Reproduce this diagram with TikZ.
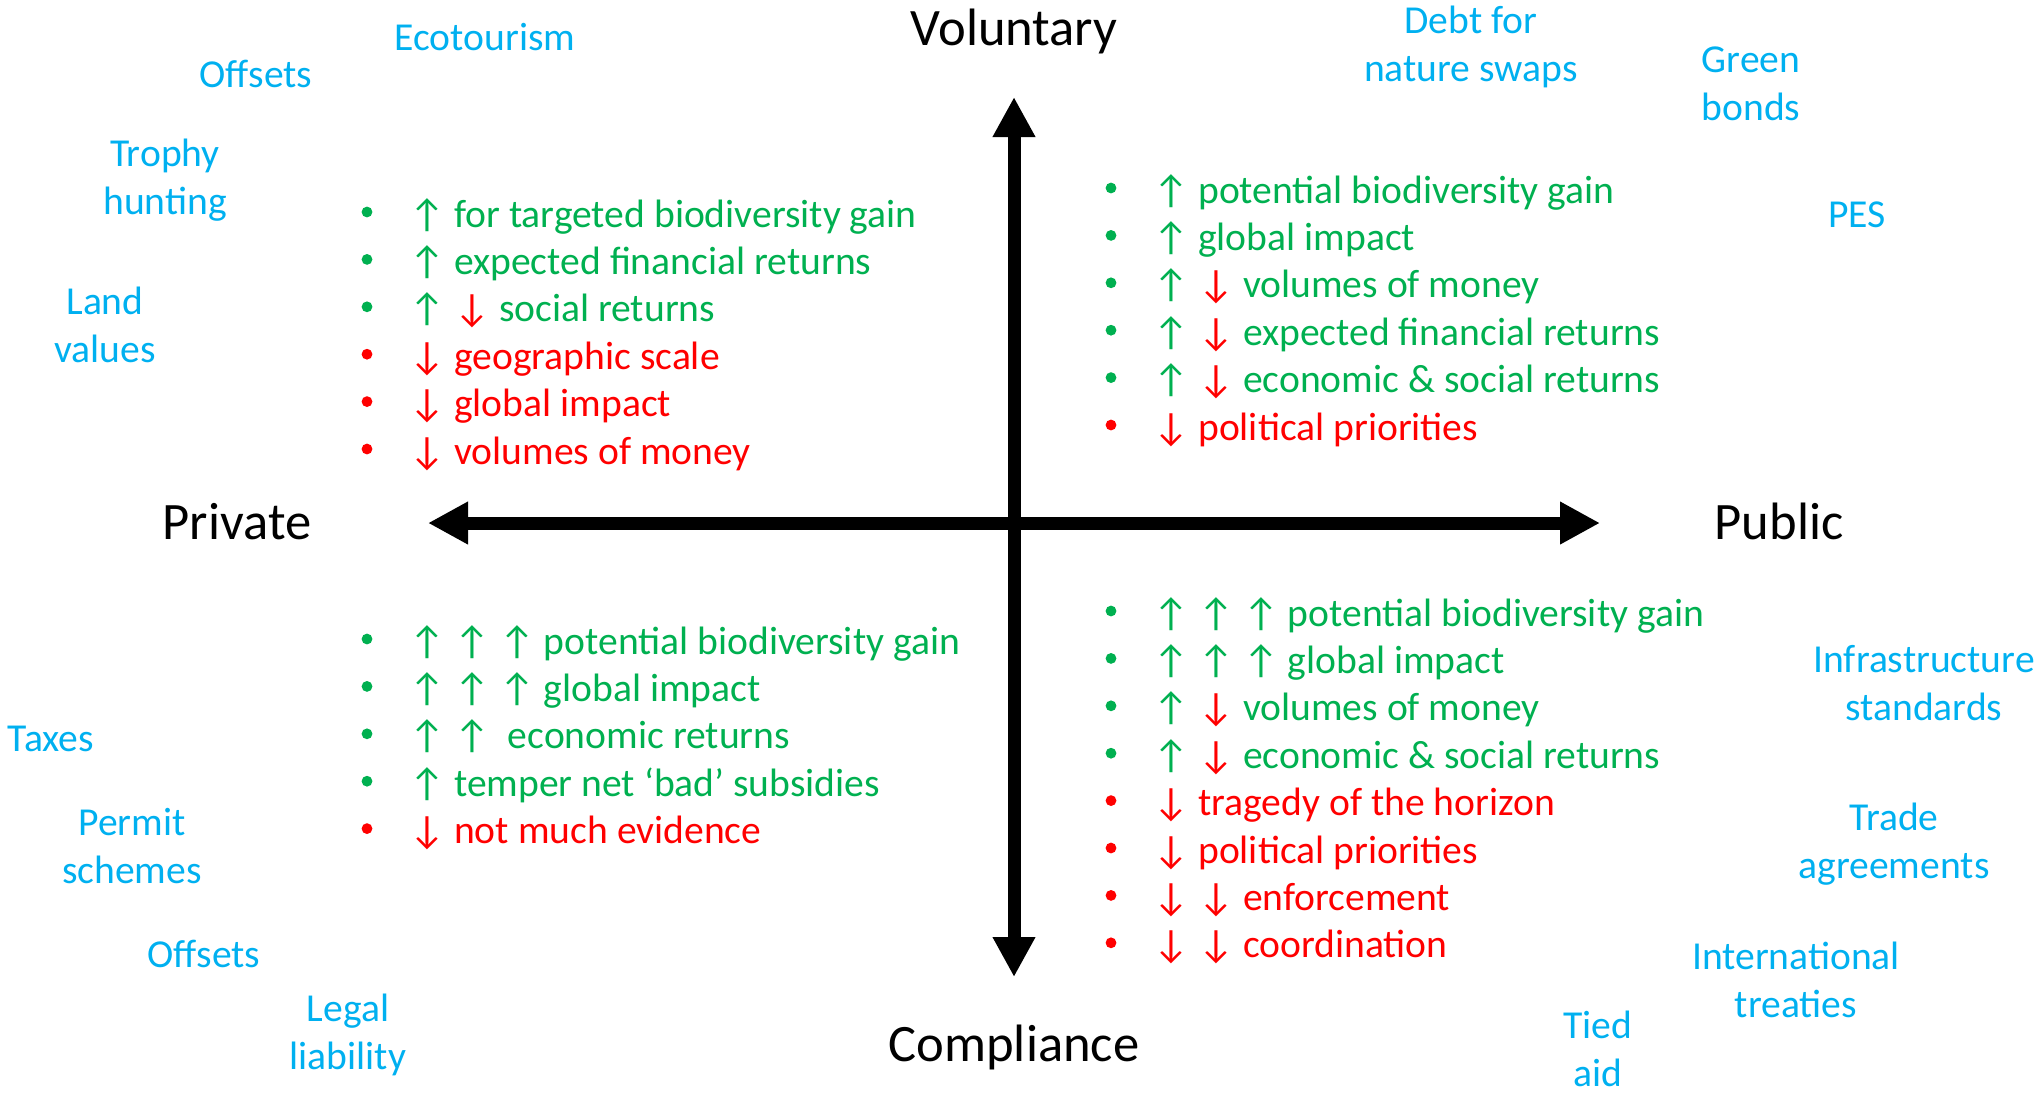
\documentclass[tikz,border=0pt]{standalone}
\usepackage{fontspec}
\setmainfont{Carlito}
\usetikzlibrary{arrows.meta}

\definecolor{plusgreen}{HTML}{00B050}
\definecolor{minusred}{HTML}{FF0000}
\definecolor{toolblue}{HTML}{00B0F0}

\newcommand{\up}{\textcolor{plusgreen}{↑}}
\newcommand{\dn}{\textcolor{minusred}{↓}}

\begin{document}
\begin{tikzpicture}[x=0.5pt,y=-0.5pt,
  axis/.style={line width=6.5pt,
    {Triangle[length=20pt,width=20pt]}-{Triangle[length=20pt,width=20pt]}},
  pole/.style={font=\fontsize{26.3}{31}\selectfont, anchor=base, inner sep=0pt},
  tool/.style={text=toolblue, font=\fontsize{19.8}{23.7}\selectfont,
    align=center, anchor=base, inner sep=0pt},
  item/.style={font=\fontsize{19.8}{23.7}\selectfont, anchor=base west, inner sep=0pt},
  dot/.style={radius=2.7pt},
]
\useasboundingbox (0,0) rectangle (2038,1094);

% axes
\coordinate (vtop) at (1014,97);
\coordinate (vbot) at (1014,977);
\coordinate (hleft) at (428,523);
\coordinate (hright) at (1600,523);
\draw[axis] (vbot) -- (vtop);
\draw[axis] (hleft) -- (hright);

% pole labels
\node[pole] (vol) at (1014,45) {Voluntary};
\node[pole] (comp) at (1014,1061) {Compliance};
\node[pole] (priv) at (237,539) {Private};
\node[pole] (pub) at (1779,539) {Public};

% instruments (two-line labels sit on the baseline of their last line)
\node[tool] (eco) at (485,50) {Ecotourism};
\node[tool] (offv) at (256,87) {Offsets};
\node[tool] (troph) at (165,214) {Trophy\\hunting};
\node[tool] (land) at (105,362) {Land\\values};
\node[tool] (debt) at (1471,81) {Debt for\\nature swaps};
\node[tool] (green) at (1751,120) {Green\\bonds};
\node[tool] (pes) at (1857,227) {PES};
\node[tool] (tax) at (51,751) {Taxes};
\node[tool] (permit) at (132,883) {Permit\\schemes};
\node[tool] (offc) at (204,967) {Offsets};
\node[tool] (legal) at (348,1069) {Legal\\liability};
\node[tool] (infra) at (1924,720) {Infrastructure\\standards};
\node[tool] (trade) at (1894,878) {Trade\\agreements};
\node[tool] (treaty) at (1796,1017) {International\\treaties};
\node[tool] (tied) at (1598,1086) {Tied\\aid};

% private / voluntary
\foreach \c/\t [count=\i] in {
  plusgreen/{\up\ for targeted biodiversity gain},
  plusgreen/{\up\ expected financial returns},
  plusgreen/{\up\ \dn\ social returns},
  minusred/{\dn\ geographic scale},
  minusred/{\dn\ global impact},
  minusred/{\dn\ volumes of money}} {
  \fill[\c] (367,{227+47.4*(\i-1)-15}) circle[dot];
  \node[item,text=\c] (pv\i) at (409,{227+47.4*(\i-1)}) {\t};
}

% public / voluntary
\foreach \c/\t [count=\i] in {
  plusgreen/{\up\ potential biodiversity gain},
  plusgreen/{\up\ global impact},
  plusgreen/{\up\ \dn\ volumes of money},
  plusgreen/{\up\ \dn\ expected financial returns},
  plusgreen/{\up\ \dn\ economic \& social returns},
  minusred/{\dn\ political priorities}} {
  \fill[\c] (1111,{203+47.4*(\i-1)-15}) circle[dot];
  \node[item,text=\c] (uv\i) at (1153,{203+47.4*(\i-1)}) {\t};
}

% private / compliance
\foreach \c/\t [count=\i] in {
  plusgreen/{\up\ \up\ \up\ potential biodiversity gain},
  plusgreen/{\up\ \up\ \up\ global impact},
  plusgreen/{\up\ \up\ \ economic returns},
  plusgreen/{\up\ temper net `bad' subsidies},
  minusred/{\dn\ not much evidence}} {
  \fill[\c] (367,{654+47.4*(\i-1)-15}) circle[dot];
  \node[item,text=\c] (pc\i) at (409,{654+47.4*(\i-1)}) {\t};
}

% public / compliance
\foreach \c/\t [count=\i] in {
  plusgreen/{\up\ \up\ \up\ potential biodiversity gain},
  plusgreen/{\up\ \up\ \up\ global impact},
  plusgreen/{\up\ \dn\ volumes of money},
  plusgreen/{\up\ \dn\ economic \& social returns},
  minusred/{\dn\ tragedy of the horizon},
  minusred/{\dn\ political priorities},
  minusred/{\dn\ \dn\ enforcement},
  minusred/{\dn\ \dn\ coordination}} {
  \fill[\c] (1111,{626+47.4*(\i-1)-15}) circle[dot];
  \node[item,text=\c] (uc\i) at (1153,{626+47.4*(\i-1)}) {\t};
}
\end{tikzpicture}
\end{document}
